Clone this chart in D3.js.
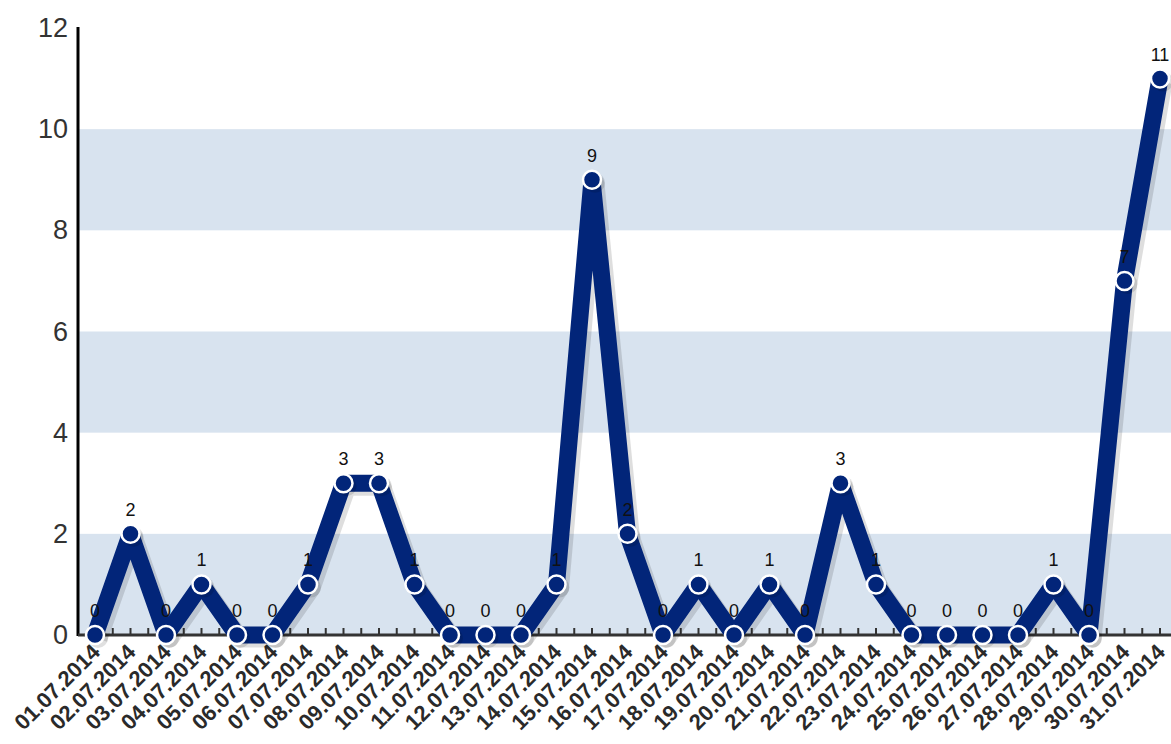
<!DOCTYPE html>
<html>
<head>
<meta charset="utf-8">
<script src="https://cdn.jsdelivr.net/npm/d3@7"></script>
<style>
  body { margin: 0; background: #fff; }
  svg { display: block; font-family: "Liberation Sans", Arial, sans-serif; }
</style>
</head>
<body>
<div class="chart"></div>
<script>
// data
const dates = ['01.07.2014','02.07.2014','03.07.2014','04.07.2014','05.07.2014','06.07.2014','07.07.2014',
  '08.07.2014','09.07.2014','10.07.2014','11.07.2014','12.07.2014','13.07.2014','14.07.2014','15.07.2014',
  '16.07.2014','17.07.2014','18.07.2014','19.07.2014','20.07.2014','21.07.2014','22.07.2014','23.07.2014',
  '24.07.2014','25.07.2014','26.07.2014','27.07.2014','28.07.2014','29.07.2014','30.07.2014','31.07.2014'];
const counts = [0,2,0,1,0,0,1,3,3,1,0,0,0,1,9,2,0,1,0,1,0,3,1,0,0,0,0,1,0,7,11];
const yTicks = [0,2,4,6,8,10,12];
const bands = [[0,2],[4,6],[8,10]];

const svg_width = 1171, svg_height = 744;
const plot = {left: 78, right: 1171, top: 28, bottom: 635};

const svg = d3.select('.chart').append('svg')
  .attr('width', svg_width).attr('height', svg_height);

const x = d3.scalePoint().domain(dates).range([95, 1160]);
const y = d3.scaleLinear().domain([0, 12]).range([plot.bottom, plot.top]);

// bands
svg.append('g').selectAll('rect').data(bands).enter()
  .append('rect')
  .attr('x', plot.left).attr('width', plot.right - plot.left)
  .attr('y', d => y(d[1])).attr('height', d => y(d[0]) - y(d[1]))
  .style('fill', '#d8e3ef');

// y axis
const yAxis = d3.axisLeft(y).tickValues(yTicks).tickSize(0).tickPadding(10);
const yAxisDraw = svg.append('g').attr('transform', `translate(${plot.left},0)`).call(yAxis);
yAxisDraw.select('.domain').remove();
yAxisDraw.selectAll('text').style('font-size', '27px').style('fill', '#333');
svg.append('line').attr('x1', plot.left).attr('x2', plot.left).attr('y1', plot.top - 1).attr('y2', plot.bottom + 1)
  .style('stroke', '#000').style('stroke-width', 3);

// x axis: minor ticks every half step
const step = x.step();
const tickPos = d3.range(0, dates.length * 2).map(i => x(dates[0]) + i * step / 2)
  .filter(p => p < plot.right);
svg.append('g').selectAll('line').data(tickPos).enter()
  .append('line')
  .attr('x1', d => d).attr('x2', d => d)
  .attr('y1', plot.bottom).attr('y2', plot.bottom - 7)
  .style('stroke', '#333').style('stroke-width', 2);
svg.append('line').attr('x1', plot.left).attr('x2', plot.right).attr('y1', plot.bottom).attr('y2', plot.bottom)
  .style('stroke', '#333').style('stroke-width', 3);

// x labels
svg.append('g').selectAll('text').data(dates).enter()
  .append('text')
  .attr('transform', d => `translate(${x(d) + 1},${plot.bottom + 13}) rotate(-45)`)
  .attr('text-anchor', 'end')
  .attr('dy', '0.35em')
  .style('font-size', '22px')
  .style('font-weight', 'bold')
  .style('fill', '#2a2a2a')
  .text(d => d);

// line + shadow
const pts = dates.map((d, i) => ({date: d, v: counts[i]}));
const line = d3.line().x(d => x(d.date)).y(d => y(d.v));

svg.append('path').datum(pts)
  .attr('d', line)
  .attr('transform', 'translate(4,4)')
  .style('fill', 'none').style('stroke', 'rgba(0,0,0,0.13)')
  .style('stroke-width', 17).style('stroke-linejoin', 'round');
svg.append('path').datum(pts)
  .attr('d', line)
  .style('fill', 'none').style('stroke', '#022579')
  .style('stroke-width', 17).style('stroke-linejoin', 'round');

// markers
svg.append('g').selectAll('circle').data(pts).enter()
  .append('circle')
  .attr('cx', d => x(d.date) + 3).attr('cy', d => y(d.v) + 3).attr('r', 10)
  .style('fill', 'rgba(0,0,0,0.12)');
svg.append('g').selectAll('circle').data(pts).enter()
  .append('circle')
  .attr('cx', d => x(d.date)).attr('cy', d => y(d.v)).attr('r', 9)
  .style('fill', '#022579').style('stroke', '#fff').style('stroke-width', 2.5);

// value labels
svg.append('g').selectAll('text').data(pts).enter()
  .append('text')
  .attr('x', d => x(d.date)).attr('y', d => y(d.v) - 18)
  .attr('text-anchor', 'middle')
  .style('font-size', '18px').style('fill', '#111')
  .text(d => d.v);
</script>
</body>
</html>
